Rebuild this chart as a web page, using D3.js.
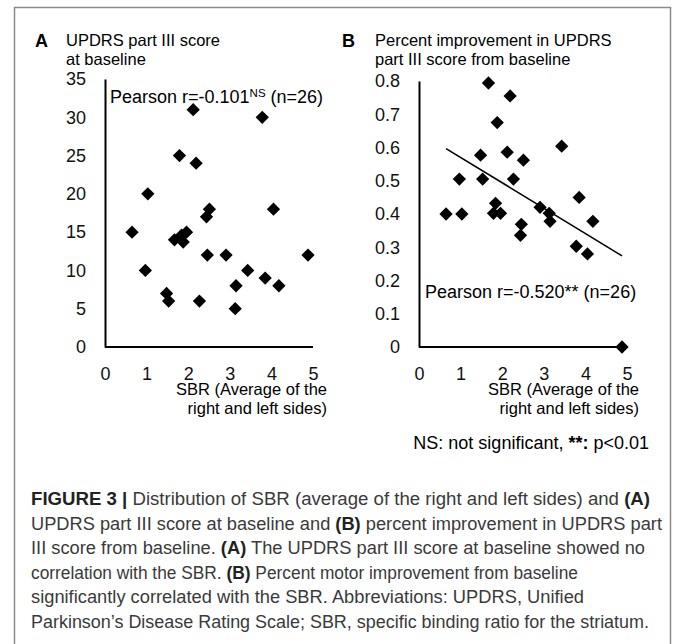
<!DOCTYPE html>
<html>
<head>
<meta charset="utf-8">
<script src="https://cdn.jsdelivr.net/npm/d3@7"></script>
<style>
  body { margin: 0; background: #fff; }
  svg text { font-family: "Liberation Sans", Arial, sans-serif; }
  .cap { fill: #3a3a3a; }
</style>
</head>
<body>
<script>
// SBR (average of right and left sides), one value per patient
var sbr = [0.65, 0.97, 1.03, 1.48, 1.53, 1.67, 1.79, 1.84, 1.88, 1.96, 2.12, 2.19, 2.27,
           2.44, 2.46, 2.51, 2.91, 3.13, 3.15, 3.43, 3.78, 3.85, 4.05, 4.18, 4.88];
// panel A: UPDRS part III score at baseline
var updrs = [15, 10, 20, 7, 6, 14, 25, 14.6, 13.7, 15, 31, 24, 6,
             17, 12, 18, 12, 5, 8, 10, 30, 9, 18, 8, 12];
// panel B: percent improvement from baseline
var improve = [0.40, 0.505, 0.40, 0.577, 0.505, 0.794, 0.402, 0.432, 0.675, 0.402, 0.586, 0.755, 0.505,
               0.336, 0.369, 0.562, 0.42, 0.402, 0.378, 0.604, 0.303, 0.45, 0.28, 0.378, 0];

var xTicks = [0, 1, 2, 3, 4, 5];
var yTicksA = [0, 5, 10, 15, 20, 25, 30, 35];
var yTicksB = [0, 0.1, 0.2, 0.3, 0.4, 0.5, 0.6, 0.7, 0.8];

var captionLines = [
  [["FIGURE 3 | ", true], ["Distribution of SBR (average of the right and left sides) and ", false], ["(A)", true]],
  [["UPDRS part III score at baseline and ", false], ["(B)", true], [" percent improvement in UPDRS part", false]],
  [["III score from baseline. ", false], ["(A)", true], [" The UPDRS part III score at baseline showed no", false]],
  [["correlation with the SBR. ", false], ["(B)", true], [" Percent motor improvement from baseline", false]],
  [["significantly correlated with the SBR. Abbreviations: UPDRS, Unified", false]],
  [["Parkinson\u2019s Disease Rating Scale; SBR, specific binding ratio for the striatum.", false]]
];
// measured line widths in the reference
var captionWidths = [619, 631, 614, 547, 553, 618];

var width = 673, height = 644;
var svg = d3.select("body").append("svg").attr("width", width).attr("height", height);

// frame
svg.append("path")
  .attr("d", "M14.5,644 V7.5 H670.5 V644")
  .attr("fill", "none").attr("stroke", "#8a8a8a").attr("stroke-width", 1.5);

var diamond = d3.symbol().type(d3.symbolSquare).size(88);

function panel(opt) {
  var g = svg.append("g");
  var x = d3.scaleLinear().domain([0, 5]).range(opt.xr);
  var y = d3.scaleLinear().domain(opt.yd).range(opt.yr);

  var xa = g.append("g").attr("transform", "translate(0," + opt.yr[0] + ")")
    .call(d3.axisBottom(x).tickValues(xTicks).tickSize(0).tickPadding(20).tickFormat(d3.format("d")));
  var ya = g.append("g").attr("transform", "translate(" + opt.xr[0] + ",0)")
    .call(d3.axisLeft(y).tickValues(opt.yt).tickSize(0).tickPadding(19).tickFormat(opt.fmt));
  [xa, ya].forEach(function(a) {
    a.select(".domain").attr("stroke", "#000").attr("stroke-width", 2);
    a.selectAll("text").attr("font-size", 18).attr("fill", "#111")
      .style("font-family", "'Liberation Sans', Arial, sans-serif");
  });
  xa.select(".domain").attr("d", "M0,0H" + (opt.xEnd - opt.xr[0]) ).attr("transform", "translate(" + opt.xr[0] + ",0)");

  if (opt.trend) {
    var mx = d3.mean(sbr), my = d3.mean(opt.vals);
    var sxy = d3.sum(sbr, function(v, i) { return (v - mx) * (opt.vals[i] - my); });
    var sxx = d3.sum(sbr, function(v) { return (v - mx) * (v - mx); });
    var b = sxy / sxx, a0 = my - b * mx;
    var ex = d3.extent(sbr);
    g.append("line")
      .attr("x1", x(ex[0])).attr("y1", y(a0 + b * ex[0]))
      .attr("x2", x(ex[1])).attr("y2", y(a0 + b * ex[1]))
      .attr("stroke", "#000").attr("stroke-width", 1.6);
  }

  g.selectAll("path.pt").data(sbr).enter().append("path")
    .attr("class", "pt")
    .attr("d", diamond)
    .attr("transform", function(d, i) {
      return "translate(" + x(d) + "," + y(opt.vals[i]) + ") rotate(45)";
    })
    .attr("fill", "#000");

  // panel letter and title
  g.append("text").attr("x", opt.letterX).attr("y", 47).attr("font-size", 18)
    .attr("font-weight", "bold").text(opt.letter);
  opt.title.forEach(function(t, i) {
    g.append("text").attr("x", opt.titleX).attr("y", 46 + i * 19).attr("font-size", 16.5).text(t);
  });

  // x axis title
  ["SBR (Average of the", "right and left sides)"].forEach(function(t, i) {
    g.append("text").attr("x", opt.xTitleR).attr("y", 395 + i * 19).attr("font-size", 16.5)
      .attr("text-anchor", "end").text(t);
  });

  var pt = g.append("text").attr("x", opt.rX).attr("y", opt.rY).attr("font-size", 18);
  opt.rText.forEach(function(p) {
    var s = pt.append("tspan").text(p[0]);
    if (p[1]) s.attr("font-size", 11.5).attr("dy", -6);
    else if (p[2]) s.attr("dy", 6);
  });
}

panel({
  letter: "A", letterX: 35, titleX: 66,
  title: ["UPDRS part III score", "at baseline"],
  xr: [105, 313], xEnd: 313, yd: [0, 35], yr: [347, 79], yt: yTicksA, fmt: d3.format("d"),
  vals: updrs, trend: false, xTitleR: 327,
  rX: 110, rY: 103, rText: [["Pearson r=-0.101"], ["NS", true], [" (n=26)", false, true]]
});

panel({
  letter: "B", letterX: 342, titleX: 375,
  title: ["Percent improvement in UPDRS", "part III score from baseline"],
  xr: [419, 627], xEnd: 623, yd: [0, 0.8], yr: [347, 81], yt: yTicksB,
  fmt: function(d) { return d === 0 ? "0" : d3.format(".1f")(d); },
  vals: improve, trend: true, xTitleR: 639,
  rX: 425, rY: 298, rText: [["Pearson r=-0.520** (n=26)"]]
});

// footnote
var fn = svg.append("text").attr("x", 649).attr("y", 449).attr("font-size", 18).attr("text-anchor", "end");
fn.append("tspan").text("NS: not significant, ");
fn.append("tspan").attr("font-weight", "bold").text("**:");
fn.append("tspan").text(" p<0.01");

// caption
captionLines.forEach(function(row, i) {
  var t = svg.append("text").attr("class", "cap").attr("x", 31).attr("y", 505 + i * 24.5)
    .attr("font-size", 17.5);
  row.forEach(function(p) {
    t.append("tspan").attr("font-weight", p[1] ? "bold" : null)
      .style("fill", p[1] ? "#222" : null).text(p[0]);
  });
  t.attr("textLength", captionWidths[i]).attr("lengthAdjust", "spacingAndGlyphs");
});
</script>
</body>
</html>
